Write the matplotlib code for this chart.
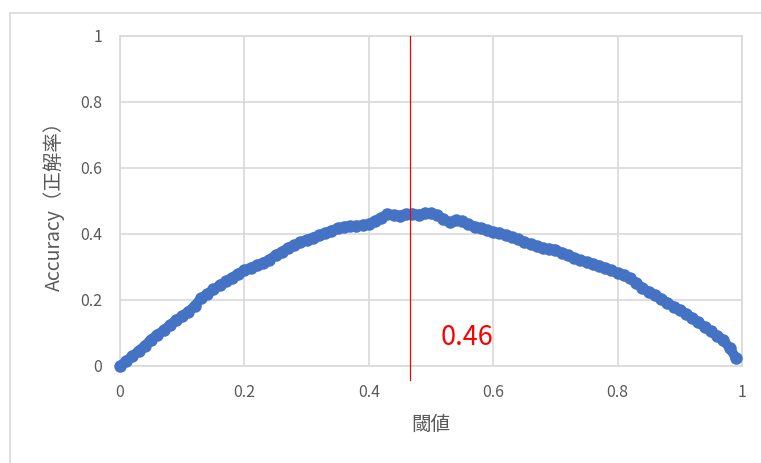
import numpy as np
import matplotlib
matplotlib.use('Agg')
import matplotlib.pyplot as plt
from matplotlib.lines import Line2D

plt.rcParams['font.family'] = ['Noto Sans CJK JP', 'DejaVu Sans']

# threshold sweep 0.00 .. 0.99
thresholds = np.arange(100) / 100.0
accuracy = [
    0.000, 0.015, 0.030, 0.046, 0.062, 0.080, 0.095, 0.108, 0.124, 0.138,
    0.152, 0.165, 0.182, 0.205, 0.218, 0.232, 0.244, 0.257, 0.268, 0.280,
    0.290, 0.298, 0.305, 0.313, 0.322, 0.336, 0.346, 0.358, 0.366, 0.375,
    0.383, 0.389, 0.396, 0.403, 0.410, 0.418, 0.422, 0.425, 0.425, 0.427,
    0.430, 0.440, 0.450, 0.460, 0.458, 0.456, 0.461, 0.462, 0.459, 0.463,
    0.463, 0.457, 0.445, 0.435, 0.442, 0.438, 0.430, 0.422, 0.418, 0.412,
    0.406, 0.403, 0.397, 0.391, 0.384, 0.376, 0.370, 0.363, 0.358, 0.355,
    0.353, 0.343, 0.335, 0.328, 0.320, 0.316, 0.310, 0.304, 0.297, 0.290,
    0.282, 0.276, 0.266, 0.252, 0.235, 0.225, 0.215, 0.203, 0.192, 0.180,
    0.170, 0.158, 0.145, 0.132, 0.118, 0.105, 0.092, 0.078, 0.055, 0.025,
]
best_threshold = 0.466
ticks = [0, 0.2, 0.4, 0.6, 0.8, 1]
tick_labels = ['0', '0.2', '0.4', '0.6', '0.8', '1']

W, H = 761, 463
fig = plt.figure(figsize=(W / 100, H / 100), dpi=100)
ax = fig.add_axes([120 / W, 1 - 366 / H, 622 / W, 330 / H])

grid_c = '#d9d9d9'
text_c = '#595959'

ax.set_xlim(0, 1)
ax.set_ylim(0, 1)
ax.set_xticks(ticks)
ax.set_yticks(ticks)
ax.set_xticklabels(tick_labels)
ax.set_yticklabels(tick_labels)
ax.grid(True, color=grid_c, linewidth=1.2)
ax.set_axisbelow(True)
for s in ax.spines.values():
    s.set_color(grid_c)
    s.set_linewidth(1.2)
ax.tick_params(length=0, labelsize=11.5, labelcolor=text_c, pad=13)

# connecting band underneath, then the markers
ax.plot(thresholds, accuracy, '-', color='#4472c4', linewidth=7,
        solid_capstyle='round', clip_on=False, zorder=3)
ax.plot(thresholds, accuracy, 'o', color='#4472c4', markersize=9,
        markeredgewidth=0, clip_on=False, zorder=3)

# best threshold marker
ax.plot([best_threshold, best_threshold], [-0.042, 1], color='#ff0000',
        linewidth=0.9, clip_on=False, zorder=4)
peak = max(accuracy)
ax.text(0.516, 0.085, f'{peak:.2f}', color='#ff0000', fontsize=19.5,
        ha='left', va='center')

ax.set_xlabel('閾値', fontsize=14, color=text_c, labelpad=9)
ax.set_ylabel('Accuracy（正解率）', fontsize=14, color=text_c)
ax.yaxis.set_label_coords(-0.088, 0.5)

# chart area frame
fig.add_artist(Line2D([10 / W, 1], [1 - 13 / H, 1 - 13 / H],
                      color='#d9d9d9', linewidth=1.2))
fig.add_artist(Line2D([10 / W, 10 / W], [0, 1 - 13 / H],
                      color='#d9d9d9', linewidth=1.2))

fig.savefig('out.png', dpi=100, facecolor='white')
